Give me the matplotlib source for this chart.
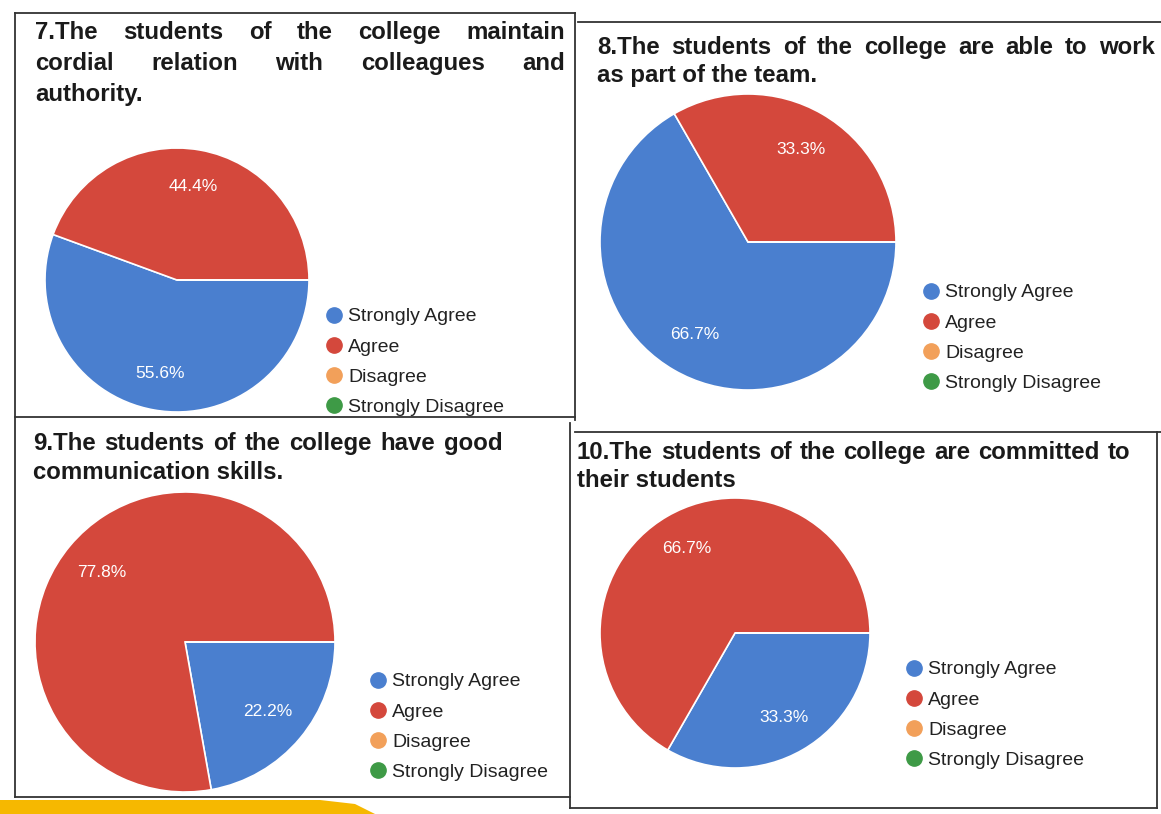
import matplotlib.pyplot as plt
from matplotlib.lines import Line2D
from matplotlib.patches import Polygon

plt.rcParams['font.family'] = ['Liberation Sans', 'DejaVu Sans']

W, H = 1161, 814

# survey answers, percent of respondents
categories = ['Strongly Agree', 'Agree', 'Disagree', 'Strongly Disagree']
strongly_agree = [55.6, 66.7, 22.2, 33.3]
agree = [44.4, 33.3, 77.8, 66.7]
disagree = [0, 0, 0, 0]
strongly_disagree = [0, 0, 0, 0]
colors = ['#4a7fcf', '#d4483c', '#f2a05a', '#3e9a46']

titles = [
    ['7.The students of the college maintain', 'cordial relation with colleagues and', 'authority.'],
    ['8.The students of the college are able to work', 'as part of the team.'],
    ['9.The students of the college have good', 'communication skills.'],
    ['10.The students of the college are committed to', 'their students'],
]

# layout in pixels: pie centre/radius, title box, legend anchor
pie_geom = [(177, 280, 132), (748, 242, 148), (185, 642, 150), (735, 633, 135)]
title_geom = [(35, 565, 30, 31), (597, 1155, 45, 28), (33, 503, 441, 29), (577, 1130, 450, 28)]
legend_geom = [(325, 362), (922, 338), (369, 727), (905, 715)]

fig = plt.figure(figsize=(W / 100, H / 100), dpi=100)
fig.patch.set_facecolor('white')
renderer = fig.canvas.get_renderer()


def fx(x):
    return x / W


def fy(y):
    return 1 - y / H


def justify(line, x0, x1, y, **kw):
    words = line.split()
    texts = [fig.text(0, fy(y), w, va='baseline', ha='left', **kw) for w in words]
    widths = [t.get_window_extent(renderer).width for t in texts]
    gap = (x1 - x0 - sum(widths)) / (len(texts) - 1)
    x = x0
    for t, w in zip(texts, widths):
        t.set_x(fx(x))
        x += w + gap


def pct(v):
    return '%.1f%%' % v if v > 0 else ''


title_size = 17.3
base_shift = 0.36 * title_size * 100 / 72  # centre of caps -> baseline

for i in range(4):
    cx, cy, r = pie_geom[i]
    ax = fig.add_axes([fx(cx - r), fy(cy + r), 2 * r / W, 2 * r / H])
    vals = [strongly_agree[i], agree[i], disagree[i], strongly_disagree[i]]
    wedges, _, autotexts = ax.pie(vals, colors=colors, startangle=0, counterclock=False,
                                  autopct=pct, pctdistance=0.72, radius=1,
                                  wedgeprops=dict(edgecolor='white', linewidth=1.2),
                                  textprops=dict(color='white', fontsize=12.5))
    ax.set_xlim(-1, 1)
    ax.set_ylim(-1, 1)
    ax.set_aspect('equal')
    ax.axis('off')

    x0, x1, ty, lh = title_geom[i]
    lines = titles[i]
    for j, line in enumerate(lines):
        yy = ty + j * lh + base_shift
        if j < len(lines) - 1:
            justify(line, x0, x1, yy, fontsize=title_size, fontweight='bold', color='#1a1a1a')
        else:
            fig.text(fx(x0), fy(yy), line, va='baseline', ha='left',
                     fontsize=title_size, fontweight='bold', color='#1a1a1a')

    handles = [Line2D([], [], marker='o', linestyle='none', markersize=11,
                      markerfacecolor=c, markeredgecolor=c) for c in colors]
    lx, ly = legend_geom[i]
    fig.legend(handles, categories, loc='center left', bbox_to_anchor=(fx(lx), fy(ly)),
               frameon=False, fontsize=14, labelspacing=0.65, handlelength=0.9,
               handletextpad=0.3, borderpad=0, borderaxespad=0, labelcolor='#222222')

# panel borders
borders = [
    ((15, 575), (13, 13)), ((578, 1161), (22, 22)),
    ((15, 15), (13, 797)), ((575, 575), (13, 420)), ((570, 570), (423, 808)),
    ((15, 575), (417, 417)), ((575, 1161), (432, 432)),
    ((15, 570), (797, 797)), ((570, 1157), (808, 808)), ((1157, 1157), (432, 808)),
]
for xs, ys in borders:
    fig.add_artist(Line2D([fx(x) for x in xs], [fy(y) for y in ys],
                          color='#333333', linewidth=1.3))

# yellow strip at the bottom of the scan
band = Polygon([(fx(0), fy(800)), (fx(320), fy(800)), (fx(355), fy(804)), (fx(375), fy(814)),
                (fx(0), fy(814))], closed=True, facecolor='#f6b800', edgecolor='none',
               transform=fig.transFigure)
fig.add_artist(band)

fig.savefig('out.png', dpi=100)
